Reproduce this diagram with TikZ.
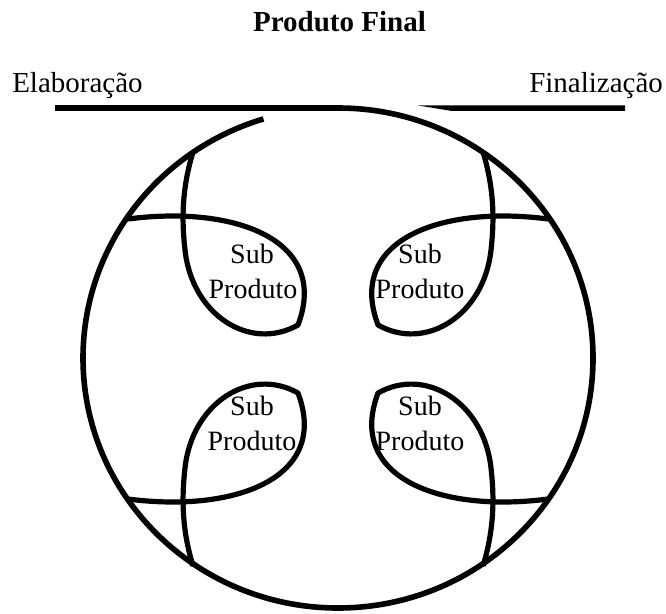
\documentclass[tikz,border=0pt]{standalone}
\usepackage{fontspec}
\setmainfont{Liberation Serif}
\begin{document}
\begin{tikzpicture}[x=0.75pt,y=-0.75pt, line cap=butt, line join=round,
  ring/.style={line width=4.2pt},
  loopline/.style={line width=3.9pt},
  lbl/.style={font=\fontsize{21}{26}\selectfont, anchor=base, inner sep=0pt},
  ttl/.style={font=\fontsize{21.75}{26}\selectfont\bfseries, anchor=base, inner sep=0pt},
  phase/.style={font=\fontsize{21.75}{26}\selectfont, anchor=base west, inner sep=0pt}]
\useasboundingbox (0,0) rectangle (666,613);

% title and phase labels
\node[ttl] (title) at (339.5,32) {Produto Final};
\node[phase] (elab) at (12,93) {Elaboração};
\node[phase] (fina) at (529,93) {Finalização};

% top line flowing into the ring
\draw[ring] (55,108) -- (338,108)
  arc[start angle=-90, end angle=253, x radius=255, y radius=250];
% right line with tapered start
\fill (417,105.3) -- (625,105.3) -- (625,111) -- (452,111) -- cycle;

% four sub-product loops
\begin{scope}[shift={(338,359)}]
  \foreach \sx/\sy in {1/1,-1/1,1/-1,-1/-1}{
    \begin{scope}[xscale=\sx, yscale=\sy]
      \draw[loopline] (-210,-140) .. controls (-103,-154) and (-8,-119) .. (-40,-34)
        .. controls (-88,-7) and (-146,-44) .. (-153,-109)
        .. controls (-157,-144) and (-155,-174) .. (-145,-207);
    \end{scope}
  }
\end{scope}

% labels
\node[lbl] (s1) at (252,263) {Sub};
\node[lbl] (p1) at (253,298) {Produto};
\node[lbl] (s2) at (420,263) {Sub};
\node[lbl] (p2) at (420,298) {Produto};
\node[lbl] (s3) at (252,415) {Sub};
\node[lbl] (p3) at (252,450) {Produto};
\node[lbl] (s4) at (420,415) {Sub};
\node[lbl] (p4) at (420,450) {Produto};
\end{tikzpicture}
\end{document}
